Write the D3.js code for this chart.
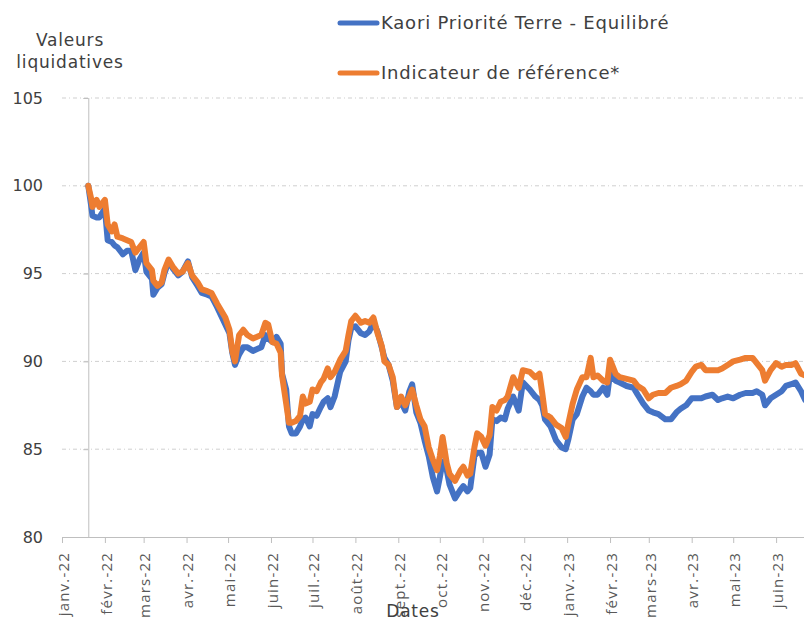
<!DOCTYPE html>
<html>
<head>
<meta charset="utf-8">
<script src="https://d3js.org/d3.v7.min.js"></script>
<style>
  body { margin: 0; background: #fff; }
  svg { display: block; }
</style>
</head>
<body>
<svg width="804" height="623"></svg>
<script>
// données (base 100)
var dates = [
  "2022-01-20","2022-01-22","2022-01-23","2022-01-26","2022-01-28","2022-02-01","2022-02-03","2022-02-06","2022-02-08","2022-02-10",
  "2022-02-14","2022-02-17","2022-02-20","2022-02-23","2022-02-26","2022-03-01","2022-03-03","2022-03-07","2022-03-08","2022-03-11",
  "2022-03-14","2022-03-16","2022-03-19","2022-03-22","2022-03-26","2022-03-29","2022-04-02","2022-04-05","2022-04-09","2022-04-12",
  "2022-04-16","2022-04-19","2022-04-23","2022-04-26","2022-04-29","2022-05-02","2022-05-04","2022-05-06","2022-05-09","2022-05-12",
  "2022-05-15","2022-05-19","2022-05-22","2022-05-25","2022-05-28","2022-05-30","2022-06-02","2022-06-05","2022-06-08","2022-06-09",
  "2022-06-12","2022-06-14","2022-06-16","2022-06-19","2022-06-22","2022-06-24","2022-06-26","2022-06-29","2022-07-01","2022-07-04",
  "2022-07-07","2022-07-09","2022-07-12","2022-07-14","2022-07-17","2022-07-21","2022-07-25","2022-07-27","2022-07-29","2022-08-01",
  "2022-08-03","2022-08-05","2022-08-08","2022-08-11","2022-08-14","2022-08-17","2022-08-20","2022-08-22","2022-08-25","2022-08-28",
  "2022-08-31","2022-09-03","2022-09-06","2022-09-09","2022-09-11","2022-09-14","2022-09-17","2022-09-20","2022-09-23","2022-09-26",
  "2022-09-29","2022-10-01","2022-10-03","2022-10-06","2022-10-08","2022-10-12","2022-10-16","2022-10-18","2022-10-21","2022-10-23",
  "2022-10-26","2022-10-28","2022-10-31","2022-11-03","2022-11-06","2022-11-08","2022-11-11","2022-11-14","2022-11-17","2022-11-19",
  "2022-11-23","2022-11-27","2022-11-30","2022-12-05","2022-12-09","2022-12-12","2022-12-14","2022-12-16","2022-12-20","2022-12-24",
  "2022-12-28","2022-12-31","2023-01-02","2023-01-05","2023-01-08","2023-01-12","2023-01-15","2023-01-18","2023-01-20","2023-01-23",
  "2023-01-27","2023-01-30","2023-02-01","2023-02-05","2023-02-08","2023-02-13","2023-02-18","2023-02-21","2023-02-25","2023-03-01",
  "2023-03-04","2023-03-08","2023-03-13","2023-03-17","2023-03-21","2023-03-24","2023-03-28","2023-04-01","2023-04-04","2023-04-08",
  "2023-04-11","2023-04-16","2023-04-20","2023-04-23","2023-04-27","2023-05-01","2023-05-06","2023-05-10","2023-05-15","2023-05-18",
  "2023-05-22","2023-05-24","2023-05-28","2023-06-01","2023-06-05","2023-06-08","2023-06-12","2023-06-15","2023-06-19","2023-06-22"
];

// Kaori Priorité Terre - Equilibré
var fonds = [
  100.0,98.9,98.3,98.2,98.2,98.7,96.9,96.8,96.6,96.5,
  96.1,96.3,96.3,95.2,95.8,96.2,95.1,94.7,93.8,94.2,
  94.4,95.0,95.7,95.3,94.9,95.1,95.7,94.8,94.3,93.9,
  93.8,93.7,93.1,92.6,92.1,91.6,90.5,89.8,90.4,90.8,
  90.8,90.6,90.7,90.8,91.5,91.3,91.1,91.4,91.0,89.3,
  88.4,86.3,85.9,85.9,86.3,86.7,86.8,86.3,87.0,86.9,
  87.4,87.7,87.9,87.4,88.0,89.4,90.0,91.2,91.9,92.0,
  91.8,91.6,91.5,91.7,92.2,91.7,90.8,90.2,89.8,88.9,
  87.4,87.7,87.2,88.3,88.7,87.1,86.5,85.5,84.6,83.4,
  82.6,83.4,84.3,83.8,83.0,82.2,82.7,82.9,82.6,82.8,
  84.6,84.8,84.8,84.0,84.7,86.7,86.6,86.8,86.7,87.3,
  88.0,87.2,88.8,88.4,88.0,87.8,87.5,86.7,86.3,85.5,
  85.1,85.0,85.6,86.7,87.0,88.0,88.5,88.3,88.1,88.1,
  88.5,88.1,89.3,88.9,88.8,88.6,88.5,88.1,87.6,87.2,
  87.1,87.0,86.7,86.7,87.1,87.3,87.5,87.9,87.9,87.9,
  88.0,88.1,87.8,87.9,88.0,87.9,88.1,88.2,88.2,88.3,
  88.1,87.5,87.9,88.1,88.3,88.6,88.7,88.8,88.3,87.8
];

// Indicateur de référence*
var indicateur = [
  100.0,99.3,98.8,99.2,98.8,99.2,97.8,97.4,97.8,97.1,
  97.0,96.9,96.8,96.2,96.5,96.8,95.6,95.2,94.6,94.3,
  94.5,95.2,95.8,95.4,95.0,95.1,95.6,94.9,94.5,94.1,
  94.0,93.9,93.3,92.9,92.5,91.8,90.6,90.0,91.5,91.8,
  91.5,91.3,91.4,91.5,92.2,92.1,91.1,91.0,90.5,89.2,
  87.6,86.5,86.5,86.6,86.9,88.0,87.6,87.7,88.4,88.3,
  88.8,89.0,89.6,89.1,89.4,90.1,90.6,91.5,92.3,92.6,
  92.4,92.2,92.3,92.2,92.5,91.6,90.9,90.0,89.8,89.1,
  87.4,88.0,87.5,88.0,88.4,87.5,86.7,86.3,85.1,84.4,
  83.8,84.6,85.7,84.2,83.6,83.2,83.8,84.0,83.5,83.6,
  85.1,85.9,85.7,85.2,85.8,87.4,87.2,87.7,87.8,88.0,
  89.1,88.5,89.5,89.4,89.1,89.3,88.2,87.0,86.8,86.4,
  86.2,85.7,86.5,87.6,88.4,89.1,89.1,90.2,89.1,89.2,
  88.9,88.8,90.1,89.3,89.1,89.0,88.9,88.6,88.4,87.9,
  88.1,88.2,88.2,88.5,88.6,88.7,88.9,89.4,89.7,89.8,
  89.5,89.5,89.5,89.6,89.8,90.0,90.1,90.2,90.2,89.9,
  89.5,88.9,89.5,89.9,89.7,89.8,89.8,89.9,89.3,89.2
];

var yTicks = [80, 85, 90, 95, 100, 105];
var moisLabels = ["janv.-22","févr.-22","mars-22","avr.-22","mai-22","juin-22","juil.-22","août-22","sept.-22",
  "oct.-22","nov.-22","déc.-22","janv.-23","févr.-23","mars-23","avr.-23","mai-23","juin-23"];
var series = [
  {name: "Kaori Priorité Terre - Equilibré", values: fonds, color: "#4472C4"},
  {name: "Indicateur de référence*", values: indicateur, color: "#ED7D31"}
];

var parse = d3.timeParse("%Y-%m-%d");
var dd = dates.map(parse);

var svg = d3.select("svg");
var x = d3.scaleTime()
  .domain([new Date(2022, 0, 1), new Date(2023, 6, 15)])
  .range([62, 837]);
var y = d3.scaleLinear().domain([80, 105]).range([537, 98]);

var mainFont = "'DejaVu Sans', sans-serif";
var txtColor = "#404040";

// grille horizontale en tirets-points
svg.append("g").selectAll("line")
  .data(yTicks.filter(function(t){ return t > 80; }))
  .enter().append("line")
  .attr("x1", 62).attr("x2", 804)
  .attr("y1", function(d){ return y(d); })
  .attr("y2", function(d){ return y(d); })
  .attr("stroke", "#cfcfcf")
  .attr("stroke-width", 1)
  .attr("stroke-dasharray", "4,3,1,3");

// axe des x
var monthTicks = d3.timeMonth.range(new Date(2022, 0, 1), new Date(2023, 5, 2));
var xAxis = d3.axisBottom(x)
  .tickValues(monthTicks)
  .tickSize(6)
  .tickFormat(function(d, i){ return moisLabels[i]; });
var gx = svg.append("g")
  .attr("transform", "translate(0," + y(80) + ")")
  .call(xAxis);
gx.select(".domain").attr("stroke", "#bfbfbf").attr("d", "M62,0.5H804");
gx.selectAll(".tick line").attr("stroke", "#bfbfbf");
gx.selectAll(".tick text")
  .attr("transform", "rotate(-90)")
  .attr("text-anchor", "end")
  .attr("x", -15)
  .attr("y", 1)
  .attr("dy", "0.35em")
  .attr("fill", "#595959")
  .style("font-family", "'Open Sans', sans-serif")
  .style("font-size", "15px")
  .style("letter-spacing", "1.2px");

// axe des y (croise au début des données)
var x0 = x(dd[0]);
var yAxis = d3.axisLeft(y).tickValues(yTicks).tickSize(5).tickFormat("");
var gy = svg.append("g")
  .attr("transform", "translate(" + x0 + ",0)")
  .call(yAxis);
gy.select(".domain").attr("stroke", "#bfbfbf").attr("d", "M0.5,98V537");
gy.selectAll(".tick line").attr("stroke", "#bfbfbf");

svg.append("g").selectAll("text")
  .data(yTicks)
  .enter().append("text")
  .attr("x", 43)
  .attr("y", function(d){ return y(d); })
  .attr("dy", "0.35em")
  .attr("text-anchor", "end")
  .attr("fill", txtColor)
  .style("font-family", mainFont)
  .style("font-size", "16px")
  .text(function(d){ return d; });

// courbes
var line = d3.line()
  .x(function(d, i){ return x(dd[i]); })
  .y(function(d){ return y(d); });

svg.append("g").selectAll("path")
  .data(series)
  .enter().append("path")
  .attr("d", function(s){ return line(s.values); })
  .attr("fill", "none")
  .attr("stroke", function(s){ return s.color; })
  .attr("stroke-width", 6)
  .attr("stroke-linejoin", "round")
  .attr("stroke-linecap", "round");

// titre axe y
var ttl = svg.append("text")
  .attr("text-anchor", "middle")
  .attr("fill", txtColor)
  .style("font-family", mainFont)
  .style("font-size", "17px")
  .style("letter-spacing", "0.8px");
ttl.append("tspan").attr("x", 70).attr("y", 46).text("Valeurs");
ttl.append("tspan").attr("x", 70).attr("y", 68).text("liquidatives");

// titre axe x
svg.append("text")
  .attr("x", 413).attr("y", 617)
  .attr("text-anchor", "middle")
  .attr("fill", txtColor)
  .style("font-family", mainFont)
  .style("font-size", "17px")
  .style("letter-spacing", "0.8px")
  .text("Dates");

// légende
var leg = svg.append("g").selectAll("g")
  .data(series)
  .enter().append("g")
  .attr("transform", function(d, i){ return "translate(340," + (23 + i * 50) + ")"; });
leg.append("line")
  .attr("x1", 0).attr("x2", 37)
  .attr("stroke", function(d){ return d.color; })
  .attr("stroke-width", 5)
  .attr("stroke-linecap", "round");
leg.append("text")
  .attr("x", 41)
  .attr("dy", "0.35em")
  .attr("fill", txtColor)
  .style("font-family", mainFont)
  .style("font-size", "18px")
  .style("letter-spacing", "0.8px")
  .text(function(d){ return d.name; });
</script>
</body>
</html>
